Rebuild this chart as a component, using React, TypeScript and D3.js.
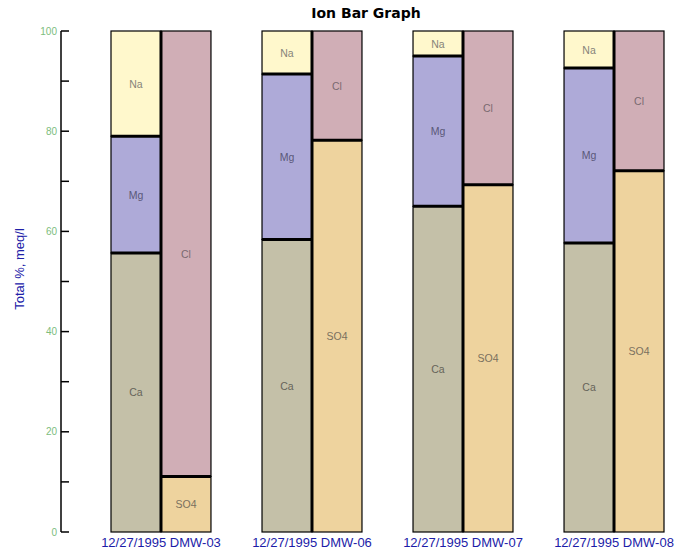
import React from "react";
import * as d3 from "d3";

const dates = ["12/27/1995", "12/27/1995", "12/27/1995", "12/27/1995"];
const wells = ["DMW-03", "DMW-06", "DMW-07", "DMW-08"];
const caValues = [55.7, 58.4, 65.0, 57.7];
const mgValues = [23.3, 33.0, 30.0, 34.9];
const naValues = [21.0, 8.6, 5.0, 7.4];
const so4Values = [11.1, 78.2, 69.3, 72.1];
const clValues = [88.9, 21.8, 30.7, 27.9];
const yTicks = [0, 10, 20, 30, 40, 50, 60, 70, 80, 90, 100];
const yLabels = [0, 20, 40, 60, 80, 100];

const ions = [
  { name: "Ca", bar: 0, values: caValues, fill: "#c4c0a8", text: "#66645a" },
  { name: "Mg", bar: 0, values: mgValues, fill: "#aeaad8", text: "#5a5878" },
  { name: "Na", bar: 0, values: naValues, fill: "#fff8cc", text: "#86847a" },
  { name: "SO4", bar: 1, values: so4Values, fill: "#eed39e", text: "#7a705e" },
  { name: "Cl", bar: 1, values: clValues, fill: "#d0aeb6", text: "#7a6a70" },
];

export default function App() {
  const W = 687, H = 553;
  const groups = wells.map((w, i) => i);
  const x = d3.scaleBand<number>().domain(groups).range([111, 664]).paddingInner(0.338).paddingOuter(0);
  const y = d3.scaleLinear().domain([0, 100]).range([532, 31]);
  const bw = x.bandwidth() / 2;

  const segs: any[] = [];
  groups.forEach((g) => {
    [0, 1].forEach((b) => {
      let cum = 0;
      ions.filter((ion) => ion.bar === b).forEach((ion) => {
        const v = ion.values[g];
        segs.push({ g, b, ion, y0: cum, y1: cum + v });
        cum += v;
      });
    });
  });

  return (
    <svg width={W} height={H} style={{ position: "absolute", left: 0, top: 0, background: "#fff" }}>
      <rect x={0} y={0} width={W} height={H} fill="#fff" />
      <text x={366} y={18} textAnchor="middle" fontFamily="DejaVu Sans" fontWeight="bold" fontSize={14} fill="#000">
        Ion Bar Graph
      </text>
      {/* y axis */}
      <line x1={61} x2={61} y1={y(0)} y2={y(100)} stroke="#000" strokeWidth={1.5} />
      {yTicks.map((t) => (
        <line key={t} x1={61} x2={69} y1={y(t)} y2={y(t)} stroke="#000" strokeWidth={1.5} />
      ))}
      {yLabels.map((t) => (
        <text key={t} x={57} y={y(t) + 3.5} textAnchor="end" fontFamily="Liberation Sans" fontSize={10} fill="#7dbd7d">
          {t}
        </text>
      ))}
      <text transform={`translate(24,269) rotate(-90)`} textAnchor="middle" fontFamily="Liberation Sans" fontSize={13} fill="#2020a8">
        Total %, meq/l
      </text>
      {/* bars */}
      {segs.map((s, i) => {
        const x0 = (x(s.g) as number) + s.b * bw;
        return (
          <g key={i}>
            <rect x={x0} y={y(s.y1)} width={bw} height={y(s.y0) - y(s.y1)} fill={s.ion.fill} stroke="#000" strokeWidth={1.2} />
            <text x={x0 + bw / 2} y={(y(s.y0) + y(s.y1)) / 2 + 4} textAnchor="middle" fontFamily="Liberation Sans" fontSize={10.5} fill={s.ion.text}>
              {s.ion.name}
            </text>
          </g>
        );
      })}
      {/* thick separators */}
      {segs.filter((s) => s.y0 > 0).map((s, i) => {
        const x0 = (x(s.g) as number) + s.b * bw;
        return <line key={"sep" + i} x1={x0} x2={x0 + bw} y1={y(s.y0)} y2={y(s.y0)} stroke="#000" strokeWidth={3} />;
      })}
      {groups.map((g) => (
        <line key={"mid" + g} x1={(x(g) as number) + bw} x2={(x(g) as number) + bw} y1={y(0)} y2={y(100)} stroke="#000" strokeWidth={3} />
      ))}
      {groups.map((g) => (
        <text key={"lbl" + g} x={(x(g) as number) + bw} y={547} textAnchor="middle" fontFamily="Liberation Sans" fontSize={13} fill="#1c1ca8">
          {dates[g] + "\u00a0" + wells[g]}
        </text>
      ))}
    </svg>
  );
}
